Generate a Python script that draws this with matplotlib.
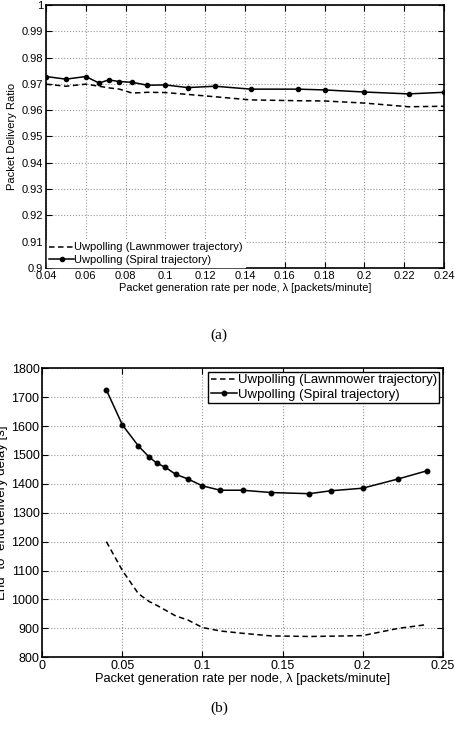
import matplotlib.pyplot as plt

plt.rcParams['font.family'] = ['Liberation Sans', 'DejaVu Sans']

# packet generation rate per node (packets/minute)
rate = [0.04, 0.05, 0.06, 0.0667, 0.0714, 0.0769, 0.0833, 0.0909, 0.1, 0.1111,
        0.125, 0.1429, 0.1667, 0.18, 0.2, 0.2222, 0.24]

# packet delivery ratio
pdr_lawn = [0.9699, 0.9691, 0.9699, 0.9691, 0.9685, 0.9680, 0.9665, 0.9668, 0.9667,
            0.9660, 0.9651, 0.9639, 0.9636, 0.9635, 0.9627, 0.9613, 0.9615]
pdr_spiral = [0.9728, 0.9718, 0.9728, 0.9703, 0.9715, 0.9709, 0.9706, 0.9695, 0.9696,
              0.9686, 0.9691, 0.9680, 0.9680, 0.9677, 0.9669, 0.9662, 0.9668]

# end-to-end delivery delay [s]
delay_lawn = [1200, 1100, 1020, 993, 980, 963, 943, 929, 903, 891, 883, 874, 872,
              873, 875, 900, 913]
delay_spiral = [1725, 1604, 1531, 1493, 1472, 1457, 1433, 1417, 1393, 1378, 1378,
                1370, 1366, 1376, 1385, 1417, 1445]

label_lawn = 'Uwpolling (Lawnmower trajectory)'
label_spiral = 'Uwpolling (Spiral trajectory)'
xlab = 'Packet generation rate per node, λ [packets/minute]'

xt_a = [0.04, 0.06, 0.08, 0.1, 0.12, 0.14, 0.16, 0.18, 0.2, 0.22, 0.24]
yt_a = [0.9, 0.91, 0.92, 0.93, 0.94, 0.95, 0.96, 0.97, 0.98, 0.99, 1]
xt_b = [0, 0.05, 0.1, 0.15, 0.2, 0.25]
yt_b = [800, 900, 1000, 1100, 1200, 1300, 1400, 1500, 1600, 1700, 1800]

dash = (3.6, 2.3)


def style(ax, fs):
    ax.grid(True, color='#999999', linestyle=':', linewidth=0.8)
    ax.tick_params(direction='in', top=True, right=True, length=4, width=0.8,
                   labelsize=fs, pad=2)
    for s in ax.spines.values():
        s.set_linewidth(1.2)
    ax.set_xticklabels(['%g' % v for v in ax.get_xticks()])
    ax.set_yticklabels(['%g' % v for v in ax.get_yticks()])


fig = plt.figure(figsize=(4.56, 7.33), dpi=100)

# (a) packet delivery ratio
ax1 = fig.add_axes([0.1009, 0.6344, 0.873, 0.3588])
ax1.plot(rate, pdr_lawn, 'k--', dashes=dash, linewidth=1.1, label=label_lawn)
ax1.plot(rate, pdr_spiral, 'k-', marker='.', markersize=6, linewidth=1.1, label=label_spiral)
ax1.set_xlim(0.04, 0.24)
ax1.set_ylim(0.9, 1)
ax1.set_xticks(xt_a)
ax1.set_yticks(yt_a)
style(ax1, 8)
ax1.set_xlabel(xlab, fontsize=7.9, labelpad=1.5)
ax1.set_ylabel('Packet Delivery Ratio', fontsize=8)
ax1.yaxis.set_label_coords(-0.072, 0.5)
leg1 = ax1.legend(loc='lower left', fontsize=8, frameon=True, fancybox=False,
                  handlelength=2.2, handletextpad=0.05, borderpad=0.2,
                  labelspacing=0.2, borderaxespad=0.1)
leg1.get_frame().set_edgecolor('white')
leg1.get_frame().set_alpha(1)
fig.text(0.48, 1 - 335 / 733, '(a)', ha='center', va='center',
         family='Liberation Serif', fontsize=11)

# (b) end-to-end delivery delay
ax2 = fig.add_axes([0.0928, 0.1033, 0.878, 0.3943])
ax2.plot(rate, delay_lawn, 'k--', dashes=dash, linewidth=1.1, label=label_lawn)
ax2.plot(rate, delay_spiral, 'k-', marker='.', markersize=6.5, linewidth=1.1, label=label_spiral)
ax2.set_xlim(0, 0.25)
ax2.set_ylim(800, 1800)
ax2.set_xticks(xt_b)
ax2.set_yticks(yt_b)
style(ax2, 9)
ax2.set_xlabel(xlab, fontsize=9.3, labelpad=1)
ax2.set_ylabel('End−to−end delivery delay [s]', fontsize=9.5)
ax2.yaxis.set_label_coords(-0.085, 0.5)
leg2 = ax2.legend(loc='upper right', fontsize=9.5, frameon=True, fancybox=False,
                  handlelength=2.0, handletextpad=0.05, borderpad=0.2,
                  labelspacing=0.15, borderaxespad=0.25)
leg2.get_frame().set_edgecolor('black')
leg2.get_frame().set_linewidth(1.0)
leg2.get_frame().set_alpha(1)
fig.text(0.48, 1 - 708 / 733, '(b)', ha='center', va='center',
         family='Liberation Serif', fontsize=11)

plt.savefig('out.png', dpi=100)
